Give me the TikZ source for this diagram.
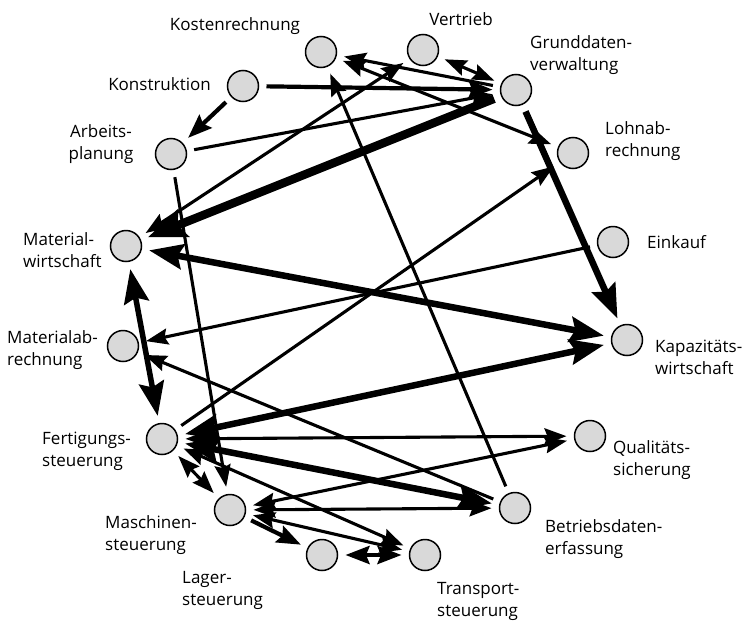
\documentclass[tikz,border=0pt]{standalone}
\usepackage{fontspec}
\setmainfont{Open Sans}
\usetikzlibrary{arrows.meta}
\tikzset{
  tA/.tip={Stealth[length=22pt,width=16pt,inset=3pt]},
  tM/.tip={Stealth[length=24pt,width=18pt,inset=3.5pt]},
  tB/.tip={Stealth[length=34pt,width=25pt,inset=5pt]},
  tC/.tip={Stealth[length=38pt,width=29pt,inset=6pt]},
}
\begin{document}
\begin{tikzpicture}[x=1pt,y=-1pt,
  st/.style={circle,draw=black,line width=1.5pt,fill=gray!30,minimum size=31pt,inner sep=0pt,outer sep=8pt},
  lab/.style={font=\fontsize{17}{22}\selectfont,inner sep=0pt,align=left},
  cA/.style={line width=3.1pt},
  cM/.style={line width=4.2pt},
  cB/.style={line width=6.5pt},
  cC/.style={line width=8.5pt},
]
\useasboundingbox[fill=white] (0,0) rectangle (744,624);
% stations
\node[st] (ko) at (321,52) {};
\node[st] (ve) at (423,50) {};
\node[st] (gd) at (516,90) {};
\node[st] (kn) at (243,86) {};
\node[st] (ap) at (171,154) {};
\node[st] (lo) at (573,153) {};
\node[st] (mw) at (126,246) {};
\node[st] (ek) at (613,242) {};
\node[st] (ma) at (123,346) {};
\node[st] (kw) at (627,340) {};
\node[st] (fs) at (162,439) {};
\node[st] (qs) at (590,436) {};
\node[st] (ms) at (230,510) {};
\node[st] (bd) at (515,508) {};
\node[st] (ls) at (322,555) {};
\node[st] (ts) at (425,555) {};
% labels
\node[lab] (lko) at (235,26) {Kostenrechnung};
\node[lab] (lve) at (461,19) {Vertrieb};
\node[lab,anchor=west] (lgd) at (530,55) {Grunddaten-\\verwaltung};
\node[lab,anchor=east] (lkn) at (211,84) {Konstruktion};
\node[lab,align=center] (lap) at (101,144) {Arbeits-\\planung};
\node[lab,anchor=west] (llo) at (605,141) {Lohnab-\\rechnung};
\node[lab,anchor=west] (lmw) at (23,250) {Material-\\wirtschaft};
\node[lab,anchor=west] (lek) at (647,242) {Einkauf};
\node[lab,anchor=west] (lma) at (7,350) {Materialab-\\rechnung};
\node[lab,anchor=west] (lkw) at (655,357) {Kapazitäts-\\wirtschaft};
\node[lab,anchor=west] (lfs) at (42,451) {Fertigungs-\\steuerung};
\node[lab,anchor=west] (lqs) at (613,460) {Qualitäts-\\sicherung};
\node[lab,anchor=west] (lms) at (105,535) {Maschinen-\\steuerung};
\node[lab,anchor=west] (lls) at (182,590) {Lager-\\steuerung};
\node[lab,anchor=west] (lbd) at (545,539) {Betriebsdaten-\\erfassung};
\node[lab,anchor=west] (lts) at (437,601) {Transport-\\steuerung};
% connectors
\draw[cM,-tM] (kn) -- (ap);
\draw[cM,-tM] (kn) -- (gd);
\draw[cA,-tA] (ap) -- (gd);
\draw[cA,-tA] (gd) -- (ko);
\draw[cA,tA-tA] (ve) -- (gd);
\draw[cA,tA-tA] (mw) -- (ve);
\draw[cC,-tC] (gd) -- (mw);
\draw[cB,-tB] (gd) -- (kw);
\draw[cA,-tA] (bd) -- (ko);
\draw[cA,tA-tA] (ko) -- (lo);
\draw[cA,-tA] (fs) -- (lo);
\draw[cA,-tA] (ek) -- (ma);
\draw[cB,tB-tB] (mw) -- (kw);
\draw[cB,tB-tB] (kw) -- (fs);
\draw[line width=5.5pt,tB-tB] (mw) -- (fs);
\draw[cA,-tA] (bd) -- (ma);
\draw[cA,-tA] (ap) -- (ms);
\draw[cA,tA-tA] (fs) -- (qs);
\draw[cB,tB-tB] (fs) -- (bd);
\draw[cA,tA-tA] (ms) -- (qs);
\draw[cA,tA-tA] (ms) -- (bd);
\draw[cA,tA-tA] (fs) -- (ts);
\draw[cA,tA-tA] (ms) -- (ts);
\draw[cA,tA-tA] (fs) -- (ms);
\draw[cM,-tM] (ms) -- (ls);
\draw[cM,tM-tM] (ls) -- (ts);
\end{tikzpicture}
\end{document}
